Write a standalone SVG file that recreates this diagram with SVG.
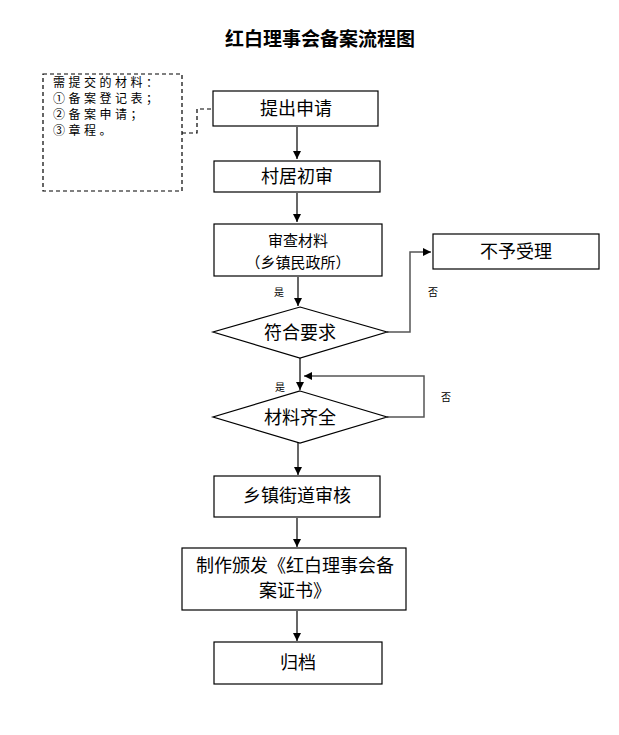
<svg xmlns="http://www.w3.org/2000/svg" width="619" height="735" viewBox="0 0 619 735">
<style>
.box{fill:#fff;stroke:#000;stroke-width:1.2}
.t{font-family:"Liberation Sans","Noto Sans CJK SC",sans-serif;fill:#000;text-anchor:middle}
.big{font-size:18px}
.sm{font-size:10px}
.ln{fill:none;stroke:#000;stroke-width:1.2}
.gl{fill:none;stroke:#555;stroke-width:1.5}
.note{font-family:"Liberation Sans","Noto Sans CJK SC",sans-serif;font-size:12px;letter-spacing:3.5px;fill:#000}
</style>
<defs>
<marker id="ah" markerWidth="10" markerHeight="10" refX="9" refY="5" orient="auto" markerUnits="userSpaceOnUse">
<path d="M1,1 L9,5 L1,9 Z" fill="#000"/>
</marker>
</defs>
<rect width="619" height="735" fill="#fff"/>
<text class="t" x="320" y="46" style="font-size:19px;font-weight:bold">红白理事会备案流程图</text>

<g id="note">
<rect x="43" y="74" width="139" height="117" fill="#fff" stroke="#000" stroke-width="1.2" stroke-dasharray="4,3"/>
<text class="note" x="53" y="87">需提交的材料：</text>
<text class="note" x="53" y="103">①备案登记表；</text>
<text class="note" x="53" y="119">②备案申请；</text>
<text class="note" x="53" y="135">③章程。</text>
</g>

<g id="connectors">
<path class="ln" d="M182,133 H197 V109 H213" stroke-dasharray="4,3"/>
<line class="ln" x1="297" y1="127" x2="297" y2="159" marker-end="url(#ah)"/>
<line class="ln" x1="297" y1="193" x2="297" y2="222" marker-end="url(#ah)"/>
<line class="ln" x1="298" y1="277" x2="298" y2="306" marker-end="url(#ah)"/>
<path class="gl" d="M387,332 H410 V252 H431" marker-end="url(#ah)"/>
<line class="ln" x1="300" y1="358" x2="300" y2="390" marker-end="url(#ah)"/>
<path class="gl" d="M387,417 H424 V376 H304" marker-end="url(#ah)"/>
<line class="ln" x1="298" y1="443" x2="298" y2="475" marker-end="url(#ah)"/>
<line class="ln" x1="297" y1="518" x2="297" y2="547" marker-end="url(#ah)"/>
<line class="ln" x1="297" y1="611" x2="297" y2="641" marker-end="url(#ah)"/>
<text class="t sm" x="279" y="296">是</text>
<text class="t sm" x="433" y="296">否</text>
<text class="t sm" x="280" y="391">是</text>
<text class="t sm" x="446" y="401">否</text>
</g>

<g id="n1"><rect class="box" x="213" y="91" width="165" height="35"/><text class="t big" x="296" y="115">提出申请</text></g>
<g id="n2"><rect class="box" x="214" y="161" width="166" height="31"/><text class="t big" x="297" y="183">村居初审</text></g>
<g id="n3"><rect class="box" x="214" y="224" width="168" height="52"/><text class="t" x="298" y="246" style="font-size:15px">审查材料</text><text class="t" x="298" y="268" style="font-size:15px">（乡镇民政所）</text></g>
<g id="d1"><polygon class="box" points="300,307 387,332 300,358 213,332"/><text class="t big" x="300" y="339">符合要求</text></g>
<g id="n4"><rect class="box" x="433" y="234" width="166" height="35"/><text class="t big" x="516" y="258">不予受理</text></g>
<g id="d2"><polygon class="box" points="300,391 387,417 300,443 213,417"/><text class="t big" x="300" y="424">材料齐全</text></g>
<g id="n5"><rect class="box" x="214" y="476" width="166" height="41"/><text class="t big" x="297" y="502">乡镇街道审核</text></g>
<g id="n6"><rect class="box" x="182" y="548" width="224" height="62"/><text class="t" x="295" y="572" style="font-size:18px">制作颁发《红白理事会备</text><text class="t" x="295" y="597" style="font-size:18px">案证书》</text></g>
<g id="n7"><rect class="box" x="214" y="642" width="168" height="42"/><text class="t big" x="298" y="669">归档</text></g>
</svg>
